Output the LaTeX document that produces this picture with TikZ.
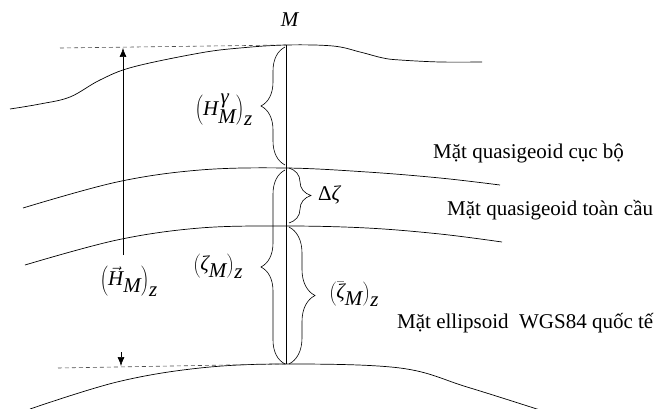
\documentclass[tikz,border=0pt]{standalone}
\usepackage{fontspec}
\setmainfont{Liberation Serif}
\usetikzlibrary{arrows.meta,decorations.pathreplacing,calc}
\begin{document}
\begin{tikzpicture}[x=1pt,y=-1pt,
  curve/.style={line width=0.7pt},
  guide/.style={line width=0.6pt,dashed,dash pattern=on 4pt off 3pt,black!70},
  brc/.style={line width=0.6pt,decorate,decoration={brace,amplitude=#1}},
  brc/.default=22pt,
  lbl/.style={font=\fontsize{21}{24}\selectfont,inner sep=0pt},
  mlbl/.style={font=\fontsize{21}{24}\selectfont,inner sep=0pt},
  arr/.style={line width=0.6pt,-{Latex[length=9pt,width=7pt]}}]
\useasboundingbox (0,0) rectangle (664,409);
% key points on the plumb line
\coordinate (Mtop) at (286,45);
\coordinate (Mloc) at (286,168);
\coordinate (Mglob) at (286,226);
\coordinate (Mell) at (286,364);
% surfaces
\draw[curve] plot[smooth,tension=0.6] coordinates {(10,109) (40,104) (70,97) (100,80) (133,67) (200,53) (240,48) (286,45) (333,46) (360,52) (383,58) (400,60) (440,62) (482,62)};
\draw[curve] plot[smooth,tension=0.6] coordinates {(23,208) (117,182) (200,170) (286,168) (367,172) (440,178) (500,185)};
\draw[curve] plot[smooth,tension=0.6] coordinates {(25,265) (117,240) (200,228) (286,226) (367,228) (440,234) (502,242)};
\draw[curve] plot[smooth,tension=0.6] coordinates {(30,409) (117,382) (200,368) (286,364) (400,368) (467,387) (540,410)};
% dashed guides
\coordinate (Dtl) at (60,48);
\coordinate (Dbl) at (58,368);
\draw[guide] (Dtl) -- (Mtop);
\draw[guide] (Dbl) -- (Mell);
% plumb line
\draw[line width=0.7pt] (Mtop) -- (Mell);
% arrows
\coordinate (Aup0) at (123,255);
\coordinate (Aup1) at (123,48);
\draw[arr] (Aup0) -- (Aup1);
\coordinate (Adn0) at (121,352);
\coordinate (Adn1) at (121,366);
\draw[arr] (Adn0) -- (Adn1);
% braces
\draw[brc=24pt] ($(Mloc)+(-1,-3)$) -- ($(Mtop)+(-1,2)$);
\draw[brc=24pt] ($(Mell)+(-1,0)$) -- ($(Mloc)+(-1,2)$);
\draw[brc=22pt] ($(Mloc)+(3,0)$) -- ($(Mglob)+(3,-3)$);
\draw[brc=26pt] ($(Mglob)+(3,1)$) -- ($(Mell)+(3,0)$);
% labels
\node[mlbl] (lM) at (290,20) {\textit{M}};
\node[mlbl] (lH) at (224,110) {$\left(\textit{H}^{\,\textit{γ}}_{\textit{M}}\right)_{\textit{z}}$};
\node[mlbl,anchor=west] (lD) at (318,195) {Δ\textit{ζ}};
\node[mlbl] (lZ) at (218,266) {$\left(\textit{ζ}_{\textit{M}}\right)_{\textit{z}}$};
\node[mlbl] (lHv) at (129,281) {$\left(\vec{\textit{H}}_{\textit{M}}\right)_{\textit{z}}$};
\node[mlbl] (lZb) at (354,294) {$\left(\bar{\textit{ζ}}_{\textit{M}}\right)_{\textit{z}}$};
\node[lbl,anchor=base west] (t1) at (433,159) {Mặt quasigeoid cục bộ};
\node[lbl,anchor=base west] (t2) at (447,215) {Mặt quasigeoid toàn cầu};
\node[lbl,anchor=base west] (t3) at (397,328) {Mặt ellipsoid\ \ WGS84 quốc tế};
\end{tikzpicture}
\end{document}
